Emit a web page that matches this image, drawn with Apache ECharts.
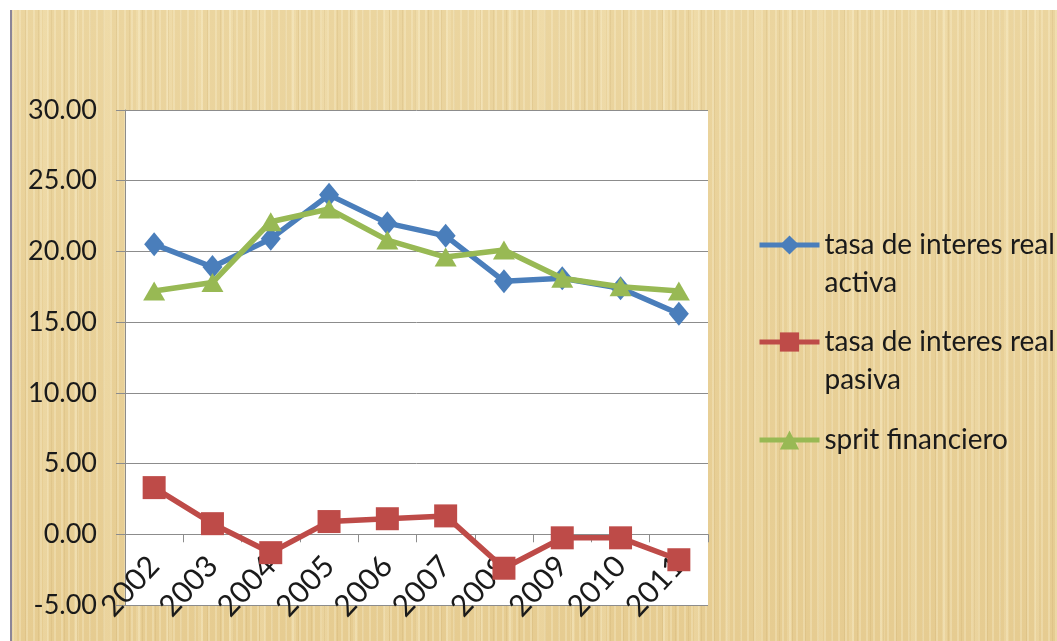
<!DOCTYPE html>
<html>
<head>
<meta charset="utf-8">
<script src="https://cdn.jsdelivr.net/npm/echarts@6/dist/echarts.min.js"></script>
<style>
  html, body { margin: 0; padding: 0; background: #fff; }
  #chart {
    position: absolute; left: 10px; top: 10px; width: 1047px; height: 631px;
    border-left: 2px solid #8b8598;
    box-sizing: border-box;
    background:
      repeating-linear-gradient(90deg, rgba(255,250,225,0.25) 0 2px, transparent 2px 7px),
      repeating-linear-gradient(90deg, rgba(150,110,40,0.09) 0 1px, transparent 1px 13px),
      repeating-linear-gradient(90deg, rgba(255,245,210,0.18) 0 5px, transparent 5px 31px),
      linear-gradient(180deg, #ebd59f, #e6cc91);
  }
</style>
</head>
<body>
<div id="chart"></div>
<script>
const years = ['2002', '2003', '2004', '2005', '2006', '2007', '2008', '2009', '2010', '2011']
const seriesNames = ['tasa de interes real activa', 'tasa de interes real pasiva', 'sprit financiero']
const legendLines = [
  ['tasa de interes real', 'activa'],
  ['tasa de interes real', 'pasiva'],
  ['sprit financiero'],
]
const activa = [20.5, 18.9, 20.9, 24.0, 22.0, 21.1, 17.9, 18.1, 17.4, 15.6]
const pasiva = [3.3, 0.75, -1.3, 0.9, 1.1, 1.3, -2.4, -0.25, -0.25, -1.8]
const spread = [17.2, 17.8, 22.1, 23.0, 20.8, 19.6, 20.1, 18.1, 17.5, 17.2]
const yTicks = { min: -5, max: 30, step: 5 }

const colors = ['#4a7ebb', '#be4b48', '#98b954']
const symbols = ['diamond', 'rect', 'triangle']
const symbolSizes = [[20, 24], 23, [22, 19]]
const font = 'Lato, "Noto Sans", sans-serif'

const chart = echarts.init(document.getElementById('chart'))

const lineH = 38
// padding line on top keeps the icon level with the first text line
function legendText(name) {
  const lines = legendLines[seriesNames.indexOf(name)]
  if (lines.length === 1) return '{t|' + lines[0] + '}'
  return '{pad| }\n' + lines.map(l => '{t|' + l + '}').join('\n')
}

const legendTops = [192, 289, 416]
const legends = seriesNames.map((n, i) => ({
  data: [n],
  orient: 'vertical',
  left: 745,
  top: legendTops[i],
  padding: 0,
  itemWidth: 60,
  itemHeight: 24,
  lineStyle: { width: 5 },
  formatter: legendText,
  textStyle: {
    fontFamily: font,
    color: '#1a1a1a',
    rich: {
      t: { fontSize: 28, lineHeight: lineH, fontFamily: font, color: '#1a1a1a' },
      pad: { fontSize: 10, lineHeight: lineH },
    },
  },
}))

const data = [activa, pasiva, spread]

chart.setOption({
  backgroundColor: 'transparent',
  animation: false,
  legend: legends,
  grid: {
    left: 113, top: 100, width: 583, height: 495,
    outerBoundsMode: 'none',
    show: true, backgroundColor: '#ffffff', borderWidth: 0,
  },
  xAxis: {
    type: 'category',
    data: years,
    boundaryGap: true,
    axisLine: { onZero: true, lineStyle: { color: '#8c8c8c', width: 1 } },
    axisTick: { show: true, length: 8, lineStyle: { color: '#8c8c8c' } },
    // labels sit at the grid bottom in echarts, pull them up under the zero line
    axisLabel: {
      rotate: 47, margin: -44, fontSize: 30, fontFamily: font, color: '#1a1a1a',
      interval: 0,
    },
  },
  yAxis: {
    type: 'value',
    min: yTicks.min, max: yTicks.max, interval: yTicks.step,
    axisLine: { show: true, lineStyle: { color: '#8c8c8c' } },
    axisTick: { show: true, length: 9, lineStyle: { color: '#8c8c8c' } },
    splitLine: { lineStyle: { color: '#8c8c8c', width: 1 } },
    axisLabel: {
      fontSize: 27, fontFamily: font, color: '#1a1a1a', margin: 28,
      formatter: v => v.toFixed(2),
    },
  },
  series: seriesNames.map((n, i) => ({
    name: n,
    type: 'line',
    data: data[i],
    symbol: symbols[i],
    symbolSize: symbolSizes[i],
    showAllSymbol: true,
    lineStyle: { color: colors[i], width: 5.5 },
    itemStyle: { color: colors[i], borderWidth: 0 },
    z: i === 1 ? 2 : (i === 2 ? 4 : 3),
  })),
})
</script>
</body>
</html>
